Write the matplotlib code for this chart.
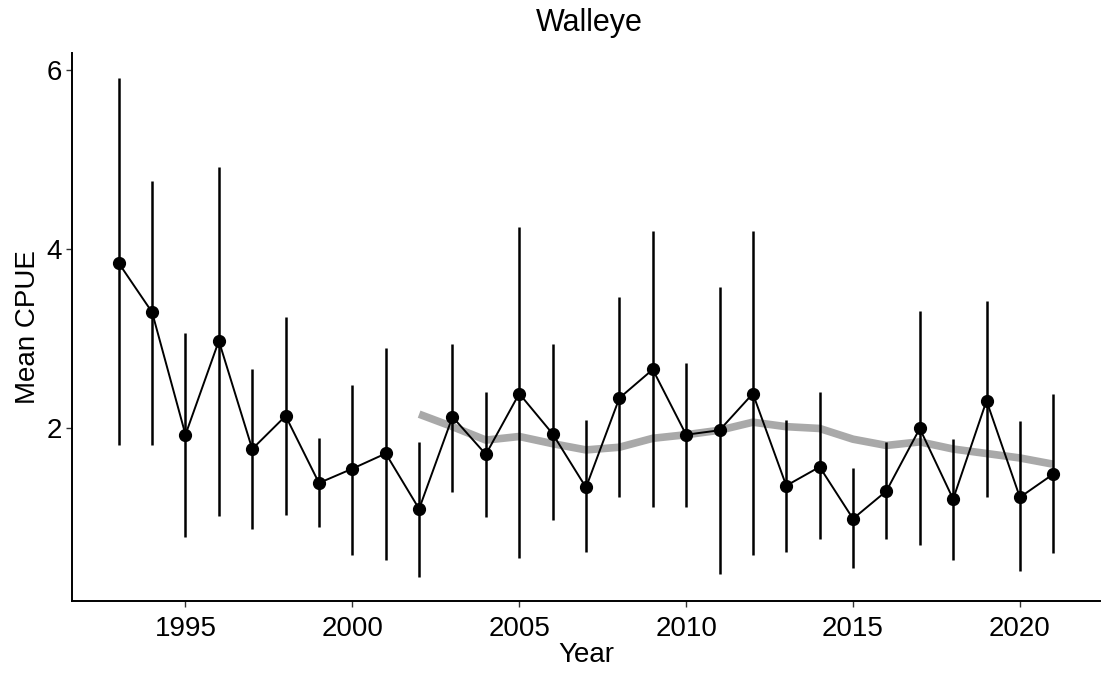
import numpy as np
import matplotlib.pyplot as plt

plt.rcParams['font.family'] = ['Liberation Sans', 'DejaVu Sans']

# 年度、平均CPUE及误差范围
years = list(range(1993, 2022))
cpue = [3.84, 3.29, 1.92, 2.97, 1.76, 2.13, 1.38, 1.54, 1.71, 1.09,
        2.12, 1.70, 2.38, 1.93, 1.33, 2.33, 2.65, 1.92, 1.97, 2.38,
        1.35, 1.56, 0.98, 1.29, 1.99, 1.20, 2.30, 1.22, 1.48]
upper = [5.91, 4.76, 3.06, 4.92, 2.66, 3.24, 1.88, 2.48, 2.89, 1.84,
         2.94, 2.40, 4.24, 2.93, 2.09, 3.46, 4.20, 2.72, 3.57, 4.20,
         2.09, 2.40, 1.55, 1.84, 3.30, 1.87, 3.42, 2.07, 2.37]
lower = [1.80, 1.80, 0.78, 1.01, 0.87, 1.02, 0.89, 0.58, 0.52, 0.33,
         1.28, 1.00, 0.54, 0.97, 0.61, 1.22, 1.11, 1.11, 0.36, 0.57,
         0.61, 0.75, 0.43, 0.75, 0.69, 0.52, 1.22, 0.39, 0.60]

# 平滑趋势线（2002年起）
trend_years = list(range(2002, 2022))
trend = [2.15, 2.01, 1.86, 1.90, 1.82, 1.75, 1.78, 1.88, 1.92, 1.97,
         2.06, 2.01, 1.99, 1.87, 1.80, 1.84, 1.76, 1.71, 1.66, 1.59]

fig = plt.figure(figsize=(11.02, 6.77), dpi=100)
ax = fig.add_axes([72 / 1102, 76 / 677, 1028 / 1102, 548 / 677])

ax.plot(trend_years, trend, color='#a9a9a9', linewidth=5.5,
        solid_capstyle='butt', zorder=1)
ax.vlines(years, lower, upper, color='black', linewidth=1.8, zorder=2)
ax.plot(years, cpue, color='black', linewidth=1.4, marker='o',
        markersize=8.5, zorder=3)

ax.set_xlim(1991.6, 2022.4)
ax.set_ylim(0.06, 6.19)
ax.set_xticks([1995, 2000, 2005, 2010, 2015, 2020])
ax.set_yticks([2, 4, 6])
ax.tick_params(labelsize=20, length=4, width=1, color='#333333',
               labelcolor='black')
ax.tick_params(axis='x', pad=7)
ax.tick_params(axis='y', pad=3)

for side in ['top', 'right']:
    ax.spines[side].set_visible(False)
for side in ['left', 'bottom']:
    ax.spines[side].set_linewidth(1.4)

ax.set_xlabel('Year', fontsize=20, labelpad=0)
ax.set_ylabel('Mean CPUE', fontsize=20, labelpad=4)
fig.text(0.535, 0.966, 'Walleye', fontsize=22, ha='center', va='center')

fig.savefig('out.png', dpi=100, facecolor='white')
